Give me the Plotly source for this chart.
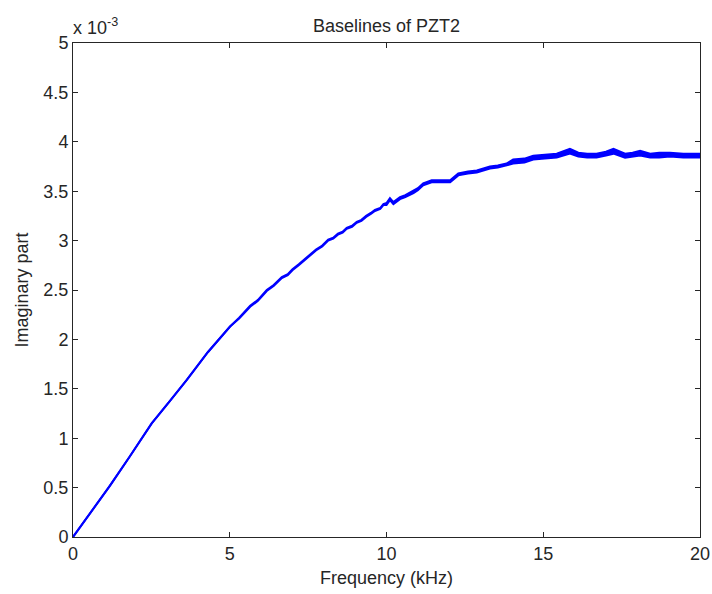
import plotly.graph_objects as go

freq_khz = [0, 0.6, 1.18, 1.8, 2.51, 3.1, 3.63, 4.3, 5.01, 5.3, 5.65, 5.9, 6.18, 6.4,
            6.66, 6.85, 7.0, 7.2, 7.35, 7.55, 7.75, 7.95, 8.14, 8.3, 8.45, 8.6, 8.73,
            8.9, 9.05, 9.2, 9.35, 9.5, 9.63, 9.8, 9.9, 10.0, 10.11, 10.22, 10.43, 10.6,
            10.86, 11.0, 11.17, 11.44, 11.7, 12.03, 12.29, 12.6, 12.88, 13.1, 13.3,
            13.55, 13.83, 14.04, 14.4, 14.68, 15.05, 15.43, 15.85, 16.12, 16.4, 16.7,
            17.0, 17.24, 17.61, 17.85, 18.09, 18.41, 18.7, 19.04, 19.47, 20.0]

# imaginary part, units of 1e-3 (upper and lower baseline measurements)
baseline_a = [0, 0.26, 0.52, 0.81, 1.15, 1.38, 1.59, 1.87, 2.13,
              2.22, 2.34, 2.40, 2.50, 2.55, 2.63, 2.66, 2.71, 2.76, 2.80, 2.86, 2.91,
              2.95, 3.01, 3.03, 3.07, 3.09, 3.13, 3.15, 3.19, 3.21, 3.25, 3.28, 3.31,
              3.33, 3.37,
              3.38, 3.43, 3.39, 3.44, 3.46, 3.50, 3.53, 3.58, 3.61, 3.61, 3.61, 3.68,
              3.70, 3.71, 3.73, 3.75, 3.76, 3.78,
              3.82, 3.83, 3.86, 3.87, 3.88, 3.93, 3.89, 3.88, 3.88, 3.90, 3.93, 3.88,
              3.89, 3.91, 3.88, 3.89, 3.89, 3.88, 3.88]
baseline_b = [0, 0.26, 0.52, 0.81, 1.15, 1.38, 1.59, 1.87, 2.13,
              2.21, 2.33, 2.39, 2.49, 2.54, 2.62, 2.65, 2.70, 2.75, 2.79, 2.85, 2.90,
              2.94, 3.00, 3.02, 3.06, 3.08, 3.12, 3.14, 3.18, 3.20, 3.24, 3.27, 3.30,
              3.32, 3.36,
              3.36, 3.41, 3.37, 3.42, 3.44, 3.48, 3.51, 3.56, 3.59, 3.59, 3.59, 3.66,
              3.68, 3.69, 3.71, 3.73, 3.74, 3.76,
              3.78, 3.79, 3.82, 3.83, 3.84, 3.88, 3.85, 3.84, 3.84, 3.86, 3.88, 3.84,
              3.85, 3.86, 3.84, 3.84, 3.85, 3.84, 3.84]

x_ticks = [0, 5, 10, 15, 20]
y_ticks = [0, 0.5, 1, 1.5, 2, 2.5, 3, 3.5, 4, 4.5, 5]
y_tick_labels = ["0", "0.5", "1", "1.5", "2", "2.5", "3", "3.5", "4", "4.5", "5"]

blue = "#0000FF"
fig = go.Figure()
fig.add_trace(go.Scatter(x=freq_khz, y=baseline_a, mode="lines",
                         line=dict(color=blue, width=2), showlegend=False,
                         hoverinfo="skip"))
fig.add_trace(go.Scatter(x=freq_khz, y=baseline_b, mode="lines",
                         line=dict(color=blue, width=2), fill="tonexty",
                         fillcolor=blue, showlegend=False, hoverinfo="skip"))

font = "Liberation Sans, Arial, sans-serif"
txt = "#262626"
axis_common = dict(showline=True, linecolor=txt, linewidth=1, mirror="ticks",
                   ticks="inside", ticklen=5, tickcolor=txt, showgrid=False,
                   zeroline=False, automargin=False,
                   tickfont=dict(family=font, size=18, color=txt))

fig.update_layout(
    width=712, height=594,
    margin=dict(l=73, r=12, t=43, b=57),
    paper_bgcolor="white", plot_bgcolor="white",
    title=dict(text="Baselines of PZT2", x=(73 + 700) / 2 / 712, xanchor="center",
               y=1 - 26/594, yanchor="middle",
               font=dict(family=font, size=18, color=txt)),
    xaxis=dict(range=[0, 20], tickvals=x_ticks,
               title=dict(text="Frequency (kHz)", standoff=8,
                          font=dict(family=font, size=18, color=txt)),
               **axis_common),
    yaxis=dict(range=[0, 5], tickvals=y_ticks, ticktext=y_tick_labels,
               title=dict(text="Imaginary part", standoff=10,
                          font=dict(family=font, size=18, color=txt)),
               **axis_common),
    annotations=[dict(text="x 10<sup>-3</sup>", xref="paper", yref="paper", x=0,
                      xshift=-2, y=1, xanchor="left", yanchor="bottom", yshift=3,
                      showarrow=False,
                      font=dict(family=font, size=18, color=txt))],
)

fig.write_html("out.html", config={"displayModeBar": False},
               post_script="document.body.style.margin='0';document.body.style.overflow='hidden';")
